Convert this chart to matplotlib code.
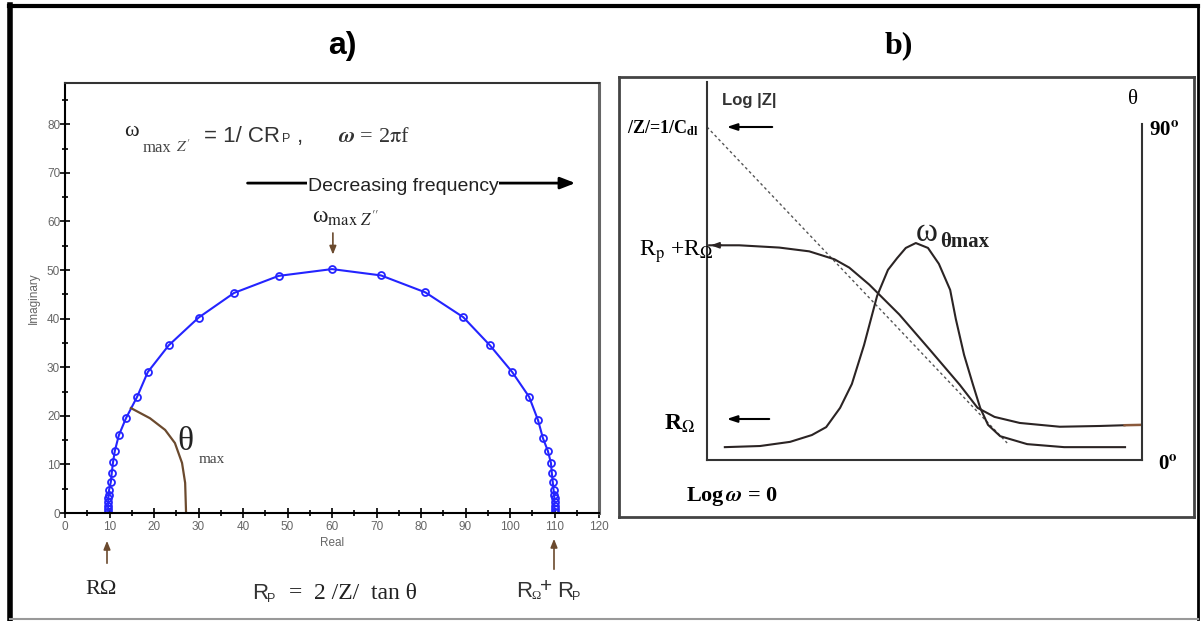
import matplotlib
matplotlib.use("Agg")
import matplotlib.pyplot as plt
from matplotlib.lines import Line2D
from matplotlib.ticker import MultipleLocator

plt.rcParams['mathtext.fontset'] = 'stix'

W, H = 1203, 621

# a) Nyquist plot (read off the picture)
nyq_re = [9.7, 9.7, 9.7, 9.7, 9.75, 9.8, 9.9, 10.3, 10.5, 10.8, 11.2, 12.1, 13.7,
          16.2, 18.6, 23.3, 30.0, 38.0, 48.0, 60.0, 71.0, 81.0, 89.5, 95.5,
          100.5, 104.3, 106.3, 107.4, 108.5, 109.2, 109.4, 109.6, 109.8, 109.9,
          110.0, 110.0, 110.0, 110.0, 110.0]
nyq_im = [0.2, 0.8, 1.5, 2.2, 3.0, 3.7, 4.7, 6.4, 8.2, 10.5, 12.8, 16.0, 19.5,
          23.9, 29.0, 34.5, 40.2, 45.3, 48.8, 50.2, 48.9, 45.4, 40.3, 34.5,
          29.0, 23.9, 19.1, 15.4, 12.8, 10.3, 8.2, 6.4, 4.7, 3.7,
          3.0, 2.2, 1.5, 0.8, 0.2]
theta_re = [14.8, 19.1, 22.5, 24.7, 26.3, 27.0, 27.2]
theta_im = [21.6, 19.5, 17.1, 14.4, 10.3, 6.2, 0.2]

# b) Bode schematic (log w on x, 0..10 arbitrary units)
logz_w = [0.05, 0.74, 1.66, 2.35, 2.93, 3.27, 3.73, 4.42, 5.12, 5.81, 6.22,
          6.61, 7.19, 8.11, 9.03, 9.6]
logz_v = [5.68, 5.68, 5.62, 5.52, 5.31, 5.09, 4.64, 3.85, 2.92, 1.99, 1.38,
          1.14, 0.98, 0.88, 0.90, 0.92]
logz_tail_w = [9.6, 10.0]
logz_tail_v = [0.92, 0.93]
asym_w = [0.0, 6.9]
asym_v = [8.81, 0.45]
phase_w = [0.41, 1.22, 1.91, 2.41, 2.74, 3.06, 3.33, 3.61, 3.91, 4.16, 4.37,
           4.57, 4.80, 5.08, 5.33, 5.59, 5.72, 5.91, 6.11, 6.28, 6.46, 6.74,
           7.36, 8.21, 9.61]
phase_v = [0.34, 0.37, 0.48, 0.66, 0.87, 1.38, 2.01, 3.04, 4.34, 5.03, 5.34,
           5.61, 5.74, 5.61, 5.19, 4.50, 3.73, 2.78, 2.01, 1.38, 0.93, 0.63,
           0.42, 0.34, 0.34]


def fx(x):
    return x / W


def fy(y):
    return 1 - y / H


def up_arrow(ax, x, y0, y1, color='#6b4a2e', hl=0.5, hw=0.2, lw=1.2):
    ax.annotate('', xy=(fx(x), fy(y1)), xytext=(fx(x), fy(y0)), xycoords='figure fraction',
                arrowprops=dict(arrowstyle='-|>,head_length=%g,head_width=%g' % (hl, hw),
                                color=color, lw=lw))


def left_arrow(ax, y, x0, x1):
    ax.annotate('', xy=(fx(x1), fy(y)), xytext=(fx(x0), fy(y)), xycoords='figure fraction',
                arrowprops=dict(arrowstyle='-|>,head_length=0.6,head_width=0.2', color='black', lw=1.5))


SERIF = 'Liberation Serif'
SANS = 'Liberation Sans'

fig = plt.figure(figsize=(W / 100, H / 100), dpi=100)

# outer frame
fig.add_artist(Line2D([fx(10), fx(10)], [fy(5), fy(619)], color='black', lw=4, transform=fig.transFigure))
fig.add_artist(Line2D([fx(9), fx(1198)], [fy(6), fy(6)], color='black', lw=3, transform=fig.transFigure))
fig.add_artist(Line2D([fx(1198), fx(1198)], [fy(5), fy(619)], color='black', lw=2, transform=fig.transFigure))
fig.add_artist(Line2D([fx(10), fx(1198)], [fy(619), fy(619)], color='#999999', lw=1.5, transform=fig.transFigure))

# ---------------- a) ----------------
ax = fig.add_axes([fx(65), fy(513), fx(599 - 65), (513 - 83) / H])
ax.plot(nyq_re, nyq_im, color='#2424ff', lw=1.5, marker='o', ms=5,
        mfc='none', mec='#2424ff', mew=1.3)
ax.plot(theta_re, theta_im, color='#6b4a2e', lw=1.6)
ax.set_xlim(0, 120)
ax.set_ylim(0, 88.5)
ax.xaxis.set_major_locator(MultipleLocator(10))
ax.xaxis.set_minor_locator(MultipleLocator(5))
ax.yaxis.set_major_locator(MultipleLocator(10))
ax.yaxis.set_minor_locator(MultipleLocator(5))
ax.tick_params(which='both', direction='inout', width=1.2, colors='black',
               labelcolor='#666666', labelsize=8.5, pad=2, labelfontfamily=SANS)
ax.tick_params(which='major', length=7)
ax.tick_params(which='minor', length=5)
ax.tick_params(axis='y', pad=0)
for s in ['left', 'bottom']:
    ax.spines[s].set_linewidth(1.5)
ax.spines['top'].set_color('#333333')
ax.spines['top'].set_linewidth(1.5)
ax.spines['right'].set_color('#666666')
ax.spines['right'].set_linewidth(2.2)
ax.set_xlabel('Real', fontsize=8.5, color='#666666', family=SANS, labelpad=3)
ax.set_ylabel('Imaginary', fontsize=8.5, color='#666666', family=SANS, labelpad=5)

ax.annotate('', xy=(115.3, 67.9), xytext=(40.4, 67.9),
            arrowprops=dict(arrowstyle='-|>,head_length=0.9,head_width=0.35', color='black', lw=2))
ax.text(76.0, 67.1, 'Decreasing frequency', ha='center', va='center', fontsize=14,
        family=SANS, color='#222222', bbox=dict(fc='white', ec='none', pad=0.3))
ax.text(63.0, 60.9, r'ω$_{\mathrm{max}\ Z^{\prime\prime}}$', family=SERIF, ha='center', va='center',
        fontsize=17, color='#222222')
ax.annotate('', xy=(60.2, 52.6), xytext=(60.2, 58.2),
            arrowprops=dict(arrowstyle='-|>,head_length=0.5,head_width=0.2', color='#6b4a2e', lw=1.2))
ax.text(27.0, 14.6, 'θ', fontsize=24, family=SERIF, ha='center', va='center', color='#222222')
ax.text(30.0, 11.0, 'max', fontsize=11, family=SERIF, ha='left', va='center', color='#444444')

fig.text(fx(124), fy(136), 'ω', fontsize=16, family=SERIF, va='baseline', color='#222222')
fig.text(fx(143), fy(152), 'max', fontsize=12, family=SERIF, color='#444444', va='baseline')
fig.text(fx(176), fy(152), r"$Z^{\prime}$", fontsize=11, color='#444444', va='baseline')
fig.text(fx(204), fy(142), '= 1/ CR', fontsize=16, family=SANS, color='#333333', va='baseline')
fig.text(fx(282), fy(142), 'P', fontsize=9, family=SANS, color='#333333', va='baseline')
fig.text(fx(297), fy(142), ',', fontsize=16, family=SANS, color='#333333', va='baseline')
fig.text(fx(338), fy(142), r'$\boldsymbol{\omega}$ = 2$\mathrm{\pi}$f', fontsize=16, family=SERIF,
         color='#333333', va='baseline')

fig.text(fx(342), fy(46), 'a)', fontsize=23, fontweight='bold', family=SANS, ha='center', va='center')

fig.text(fx(101), fy(590), 'RΩ', fontsize=16, family=SERIF, ha='center', va='center', color='#222222')
fig.text(fx(252), fy(599), 'R', fontsize=16, family=SANS, va='baseline', color='#333333')
fig.text(fx(267), fy(602), 'P', fontsize=9, family=SANS, va='baseline', color='#333333')
fig.text(fx(289), fy(599), '=  2 /Z/  tan θ', fontsize=17, family=SERIF, va='baseline', color='#222222')
fig.text(fx(516), fy(597), 'R', fontsize=16, family=SANS, va='baseline', color='#333333')
fig.text(fx(531), fy(599), 'Ω', fontsize=9, family=SERIF, va='baseline', color='#333333')
fig.text(fx(540), fy(592), '+', fontsize=15, family=SANS, va='baseline', color='#333333')
fig.text(fx(557), fy(597), 'R', fontsize=16, family=SANS, va='baseline', color='#333333')
fig.text(fx(572), fy(600), 'P', fontsize=9, family=SANS, va='baseline', color='#333333')

# ---------------- b) ----------------
box = fig.add_axes([fx(619), fy(517), fx(1194 - 619), (517 - 77) / H])
box.set_xticks([])
box.set_yticks([])
for s in box.spines.values():
    s.set_color('#444444')
    s.set_linewidth(2)

bx = fig.add_axes([fx(707), fy(460), fx(1142 - 707), (460 - 82) / H])
bx.patch.set_alpha(0)
bx.set_xlim(0, 10)
bx.set_ylim(0, 10)
bx.set_xticks([])
bx.set_yticks([])
bx.spines['top'].set_visible(False)
bx.spines['right'].set_bounds(0, 8.9)
for s in ['left', 'bottom', 'right']:
    bx.spines[s].set_color('#333333')
    bx.spines[s].set_linewidth(1.5)

bx.plot(asym_w, asym_v, color='#555555', lw=1, ls=(0, (2, 2)))
bx.plot(logz_w, logz_v, color='#2b2424', lw=1.5)
bx.plot(logz_tail_w, logz_tail_v, color='#8b5a3c', lw=1.8)
bx.plot(phase_w, phase_v, color='#2b2424', lw=1.5)
bx.annotate('', xy=(0.02, 5.68), xytext=(0.4, 5.68),
            arrowprops=dict(arrowstyle='-|>,head_length=0.5,head_width=0.18', color='#2b2424', lw=1.2))

fig.text(fx(899), fy(46), 'b)', fontsize=23, fontweight='bold', family=SERIF, ha='center', va='center')
fig.text(fx(722), fy(100), 'Log |Z|', fontsize=12, family=SANS, fontweight='bold', color='#333333',
         va='center')
fig.text(fx(1133), fy(100), 'θ', fontsize=15, family=SERIF, ha='center', va='center')
fig.text(fx(1149), fy(131), r'90$^{\mathbf{o}}$', fontsize=15, family=SERIF, fontweight='bold',
         va='center')
fig.text(fx(1158), fy(465), r'0$^{\mathbf{o}}$', fontsize=15, family=SERIF, fontweight='bold',
         va='center')
fig.text(fx(627), fy(128), r'/Z/=1/C$_{\mathbf{dl}}$', fontsize=13, family=SERIF,
         fontweight='bold', va='center')
fig.text(fx(639), fy(252), r'R$_{\mathrm{p}}$ +R$_{\Omega}$', fontsize=17, family=SERIF, va='center')
fig.text(fx(916), fy(233), 'ω', fontsize=24, family=SERIF, va='center', color='#222222')
fig.text(fx(940), fy(242), 'θmax', fontsize=15, family=SERIF, fontweight='bold', va='center',
         color='#222222')
fig.text(fx(664), fy(424), r'R$_{\Omega}$', fontsize=17, family=SERIF, fontweight='bold', va='center')
fig.text(fx(686), fy(496), r'Log$\,\boldsymbol{\omega}$ = 0', fontsize=16, family=SERIF,
         fontweight='bold', va='center')

# overlay for arrows given in figure pixels
ov = fig.add_axes([0, 0, 1, 1])
ov.set_axis_off()
ov.patch.set_alpha(0)
up_arrow(ov, 107, 566, 538)
up_arrow(ov, 554, 572, 536)
left_arrow(ov, 127, 775, 724)
left_arrow(ov, 419, 772, 724)

fig.savefig('out.png', dpi=100)
